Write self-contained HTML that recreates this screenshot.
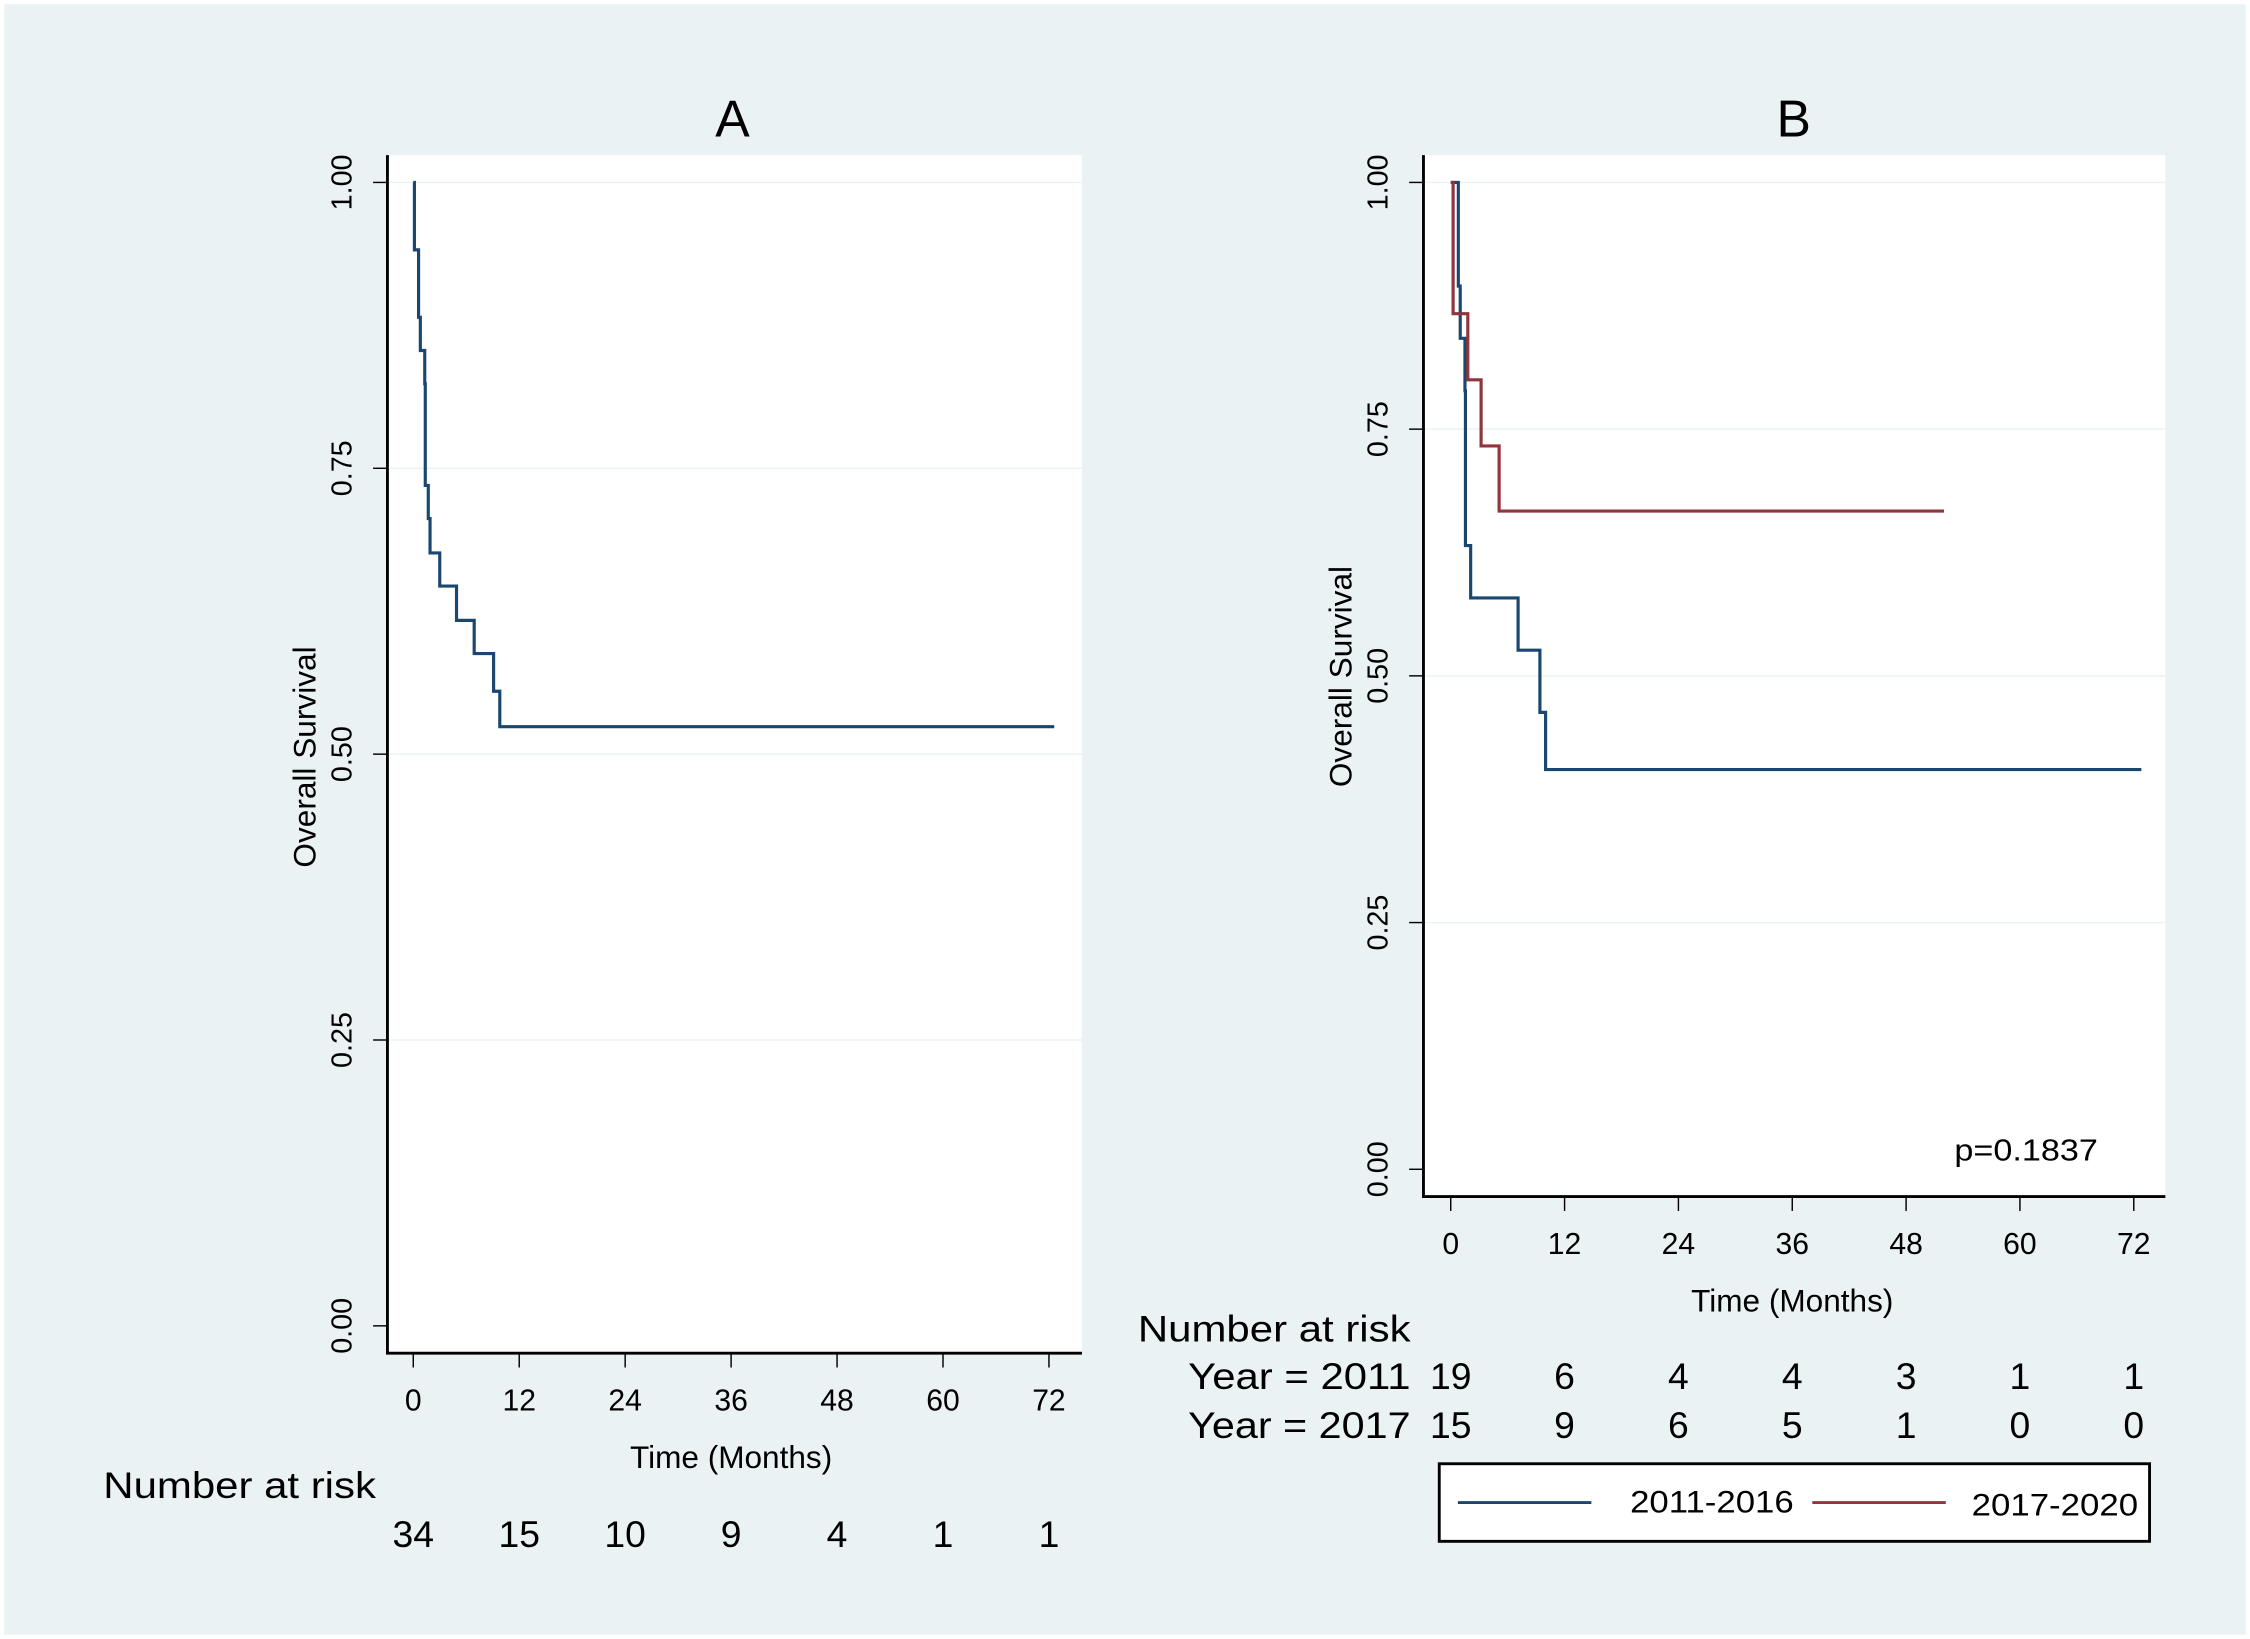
<!DOCTYPE html>
<html><head><meta charset="utf-8"><style>
html,body{margin:0;padding:0;background:#eaf2f3}
svg{display:block}
text{font-family:"Liberation Sans",sans-serif;fill:#000}
</style></head><body>
<svg width="2250" height="1639" viewBox="0 0 1568 1141" preserveAspectRatio="none">
<rect x="0" y="0" width="1568" height="1141" fill="#ffffff"/>
<rect x="3" y="3" width="1562" height="1135" fill="#eaf2f3"/>
<g id="panelA"></g>
<g id="panelB"></g>
</svg>
<script>
// Panel A data
const xTicks = [0, 12, 24, 36, 48, 60, 72];
const yTicks = [0, 0.25, 0.5, 0.75, 1];
const yTickLabels = ["0.00", "0.25", "0.50", "0.75", "1.00"];
const timesA = [0, 0.13, 0.6, 0.8, 1.3, 1.36, 1.7, 1.9, 3.0, 4.9, 6.9, 9.1, 9.8];
const survA = [1, 0.941, 0.882, 0.853, 0.824, 0.735, 0.706, 0.676, 0.647, 0.617, 0.588, 0.555, 0.524];
const endA = 72.6;
const riskA = [34, 15, 10, 9, 4, 1, 1];
// Panel B data
const timesB1 = [0, 0.8, 1.0, 1.5, 1.55, 2.1, 7.1, 9.4, 10.0];
const survB1 = [1, 0.895, 0.842, 0.789, 0.632, 0.579, 0.526, 0.463, 0.405];
const endB1 = 72.8;
const timesB2 = [0, 0.25, 1.8, 3.2, 5.1];
const survB2 = [1, 0.867, 0.8, 0.733, 0.667];
const endB2 = 52;
const riskB1 = [19, 6, 4, 4, 3, 1, 1];
const riskB2 = [15, 9, 6, 5, 1, 0, 0];

const NS = "http://www.w3.org/2000/svg";
function mk(parent, tag, attrs, txt) {
  const e = document.createElementNS(NS, tag);
  for (const k in attrs) e.setAttribute(k, attrs[k]);
  if (txt !== undefined) e.textContent = txt;
  parent.appendChild(e);
  return e;
}
function stepPath(xs, ys, end, sx, sy) {
  let d = "M" + sx(xs[0]) + "," + sy(ys[0]);
  for (let i = 1; i < xs.length; i++) {
    d += " H" + sx(xs[i]) + " V" + sy(ys[i]);
  }
  d += " H" + sx(end);
  return d;
}
function panel(g, cfg) {
  const sx = t => cfg.x0 + (t / 72) * (cfg.x72 - cfg.x0);
  const sy = v => cfg.y0 + v * (cfg.y1 - cfg.y0);
  let e = mk(g, "rect", {x: cfg.left, y: cfg.top, width: cfg.right - cfg.left, height: cfg.bottom - cfg.top, fill: "#ffffff"});
  
  
  yTicks.forEach((v, i) => {
    if (v > 0) {
      let gl = mk(g, "line", {x1: cfg.left, x2: cfg.right, y1: sy(v), y2: sy(v), stroke: "#eaf2f3", "stroke-width": 1});
      
      
    }
    let tk = mk(g, "line", {x1: cfg.left - 10, x2: cfg.left, y1: sy(v), y2: sy(v), stroke: "#000", "stroke-width": 1});
    
    
    let lb = mk(g, "text", {x: 0, y: 0, "font-size": 20, "text-anchor": "middle", transform: "translate(" + (cfg.left - 25) + "," + sy(v) + ") rotate(-90)"}, yTickLabels[i]);
    
    
  });
  xTicks.forEach(t => {
    let tk = mk(g, "line", {x1: sx(t), x2: sx(t), y1: cfg.bottom, y2: cfg.bottom + 10, stroke: "#000", "stroke-width": 1});
    
    
    let lb = mk(g, "text", {x: sx(t), y: cfg.bottom + 40, "font-size": 21, "text-anchor": "middle"}, String(t));
    
    
  });
  let ax = mk(g, "path", {d: "M" + cfg.left + "," + cfg.top + " V" + cfg.bottom + " H" + cfg.right, fill: "none", stroke: "#000", "stroke-width": 2});
  
  
  let yt = mk(g, "text", {x: 0, y: 0, "font-size": 22, "text-anchor": "middle", transform: "translate(" + (cfg.left - 50) + "," + cfg.ytitleY + ") rotate(-90)"}, "Overall Survival");
  
  
  let xt = mk(g, "text", {x: (cfg.x0 + cfg.x72) / 2, y: cfg.bottom + 80, "font-size": 22, "text-anchor": "middle"}, "Time (Months)");
  
  
  let tt = mk(g, "text", {x: (cfg.x0 + cfg.x72) / 2 + 1, y: 95, "font-size": 36, "text-anchor": "middle"}, cfg.title);
  
  
  cfg.series.forEach(s => {
    let p = mk(g, "path", {d: stepPath(s.t, s.v, s.end, sx, sy), fill: "none", stroke: s.color, "stroke-width": 2.2});
    
    
  });
  return sx;
}
const gA = document.getElementById("panelA");
const sxA = panel(gA, {left: 270, right: 754, top: 108, bottom: 942, x0: 288, x72: 731, y0: 923, y1: 127, ytitleY: 527, title: "A",
  series: [{t: timesA, v: survA, end: endA, color: "#1a476f", name: "survival-curve-all"}]});
let t = mk(gA, "text", {x: 72, y: 1043, "font-size": 26, textLength: 190, lengthAdjust: "spacingAndGlyphs"}, "Number at risk");


riskA.forEach((n, i) => {
  let r = mk(gA, "text", {x: sxA(xTicks[i]), y: 1077, "font-size": 26, "text-anchor": "middle"}, String(n));
  
  
});

const gB = document.getElementById("panelB");
const sxB = panel(gB, {left: 992, right: 1509, top: 108, bottom: 833, x0: 1011, x72: 1487, y0: 814, y1: 127, ytitleY: 471, title: "B",
  series: [{t: timesB1, v: survB1, end: endB1, color: "#1a476f", name: "survival-curve-2011-2016"},
           {t: timesB2, v: survB2, end: endB2, color: "#90353b", name: "survival-curve-2017-2020"}]});
let p = mk(gB, "text", {x: 1412, y: 808, "font-size": 21, "text-anchor": "middle", textLength: 100, lengthAdjust: "spacingAndGlyphs"}, "p=0.1837");


let t2 = mk(gB, "text", {x: 793, y: 934, "font-size": 26, textLength: 190, lengthAdjust: "spacingAndGlyphs"}, "Number at risk");


[["Year = 2011", riskB1, 967], ["Year = 2017", riskB2, 1001]].forEach(row => {
  let l = mk(gB, "text", {x: 828, y: row[2], "font-size": 26, textLength: 155, lengthAdjust: "spacingAndGlyphs"}, row[0]);
  
  
  row[1].forEach((n, i) => {
    let r = mk(gB, "text", {x: sxB(xTicks[i]), y: row[2], "font-size": 26, "text-anchor": "middle"}, String(n));
    
    
  });
});
const lg = mk(gB, "g", {});


let lb = mk(lg, "rect", {x: 1003, y: 1019, width: 495, height: 54, fill: "#ffffff", stroke: "#000", "stroke-width": 2});


let l1 = mk(lg, "line", {x1: 1016, x2: 1109, y1: 1046, y2: 1046, stroke: "#1a476f", "stroke-width": 2});


let lt1 = mk(lg, "text", {x: 1136, y: 1053, "font-size": 22, textLength: 114, lengthAdjust: "spacingAndGlyphs"}, "2011-2016");


let l2 = mk(lg, "line", {x1: 1263, x2: 1356, y1: 1046, y2: 1046, stroke: "#90353b", "stroke-width": 2});


let lt2 = mk(lg, "text", {x: 1374, y: 1055, "font-size": 22, textLength: 116, lengthAdjust: "spacingAndGlyphs"}, "2017-2020");


</script>
</body></html>
